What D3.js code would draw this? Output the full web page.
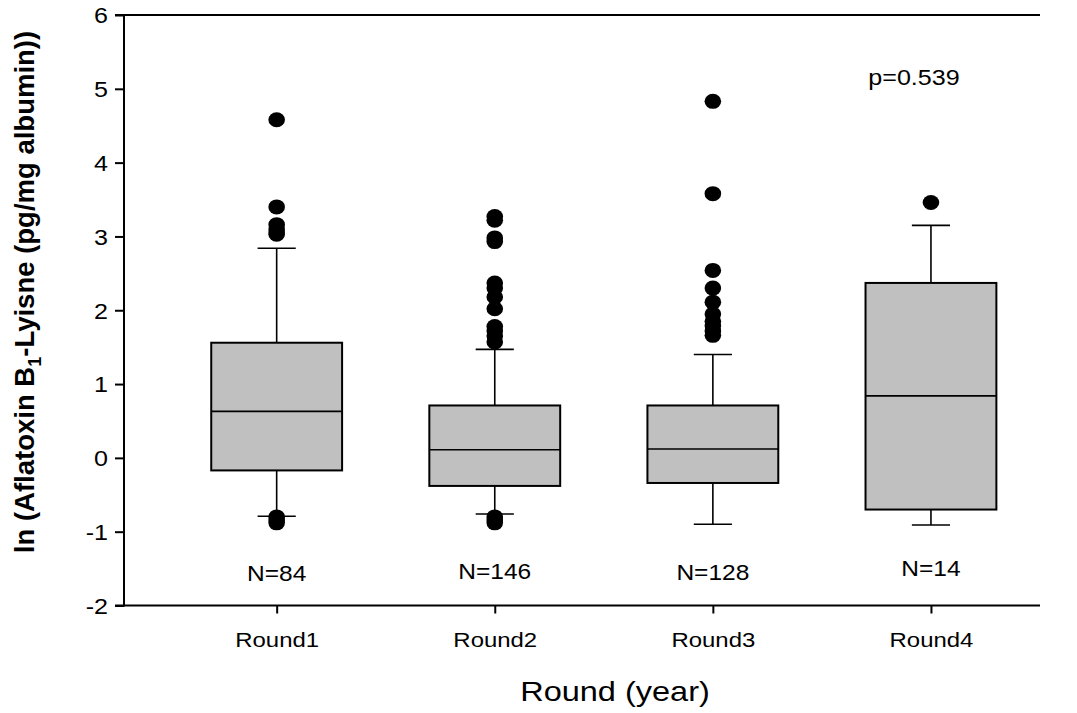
<!DOCTYPE html>
<html>
<head>
<meta charset="utf-8">
<script src="https://cdn.jsdelivr.net/npm/d3@7"></script>
<style>
  html, body { margin: 0; padding: 0; background: #fff; }
  svg { display: block; font-family: "Liberation Sans", Arial, sans-serif; }
</style>
</head>
<body>
<svg id="chart" width="1077" height="713"></svg>
<script>
// Box plot summaries of ln(AFB1-lysine) per sampling round
const categories  = ["Round1", "Round2", "Round3", "Round4"];
const nLabels     = ["N=84", "N=146", "N=128", "N=14"];
const q1          = [-0.17, -0.38, -0.34, -0.70];
const medians     = [0.63, 0.11, 0.12, 0.84];
const q3          = [1.56, 0.71, 0.71, 2.37];
const whiskerLow  = [-0.79, -0.76, -0.90, -0.91];
const whiskerHigh = [2.84, 1.47, 1.40, 3.15];
const outliers = [
  [4.58, 3.40, 3.16, 3.10, 3.06, 3.03, -0.80, -0.84, -0.88],
  [3.27, 3.22, 2.98, 2.93, 2.37, 2.30, 2.18, 2.02, 1.78, 1.72, 1.65, 1.57, -0.80, -0.84, -0.88],
  [4.83, 3.58, 2.54, 2.30, 2.11, 1.95, 1.85, 1.79, 1.72, 1.66],
  [3.46]
];
const yTicks = [-2, -1, 0, 1, 2, 3, 4, 5, 6];
const pValueText = "p=0.539";

const svg = d3.select("#chart");
const SX = 1.14; // horizontal text stretch

const x = d3.scaleLinear().domain([0.3, 4.5]).range([124, 1040]);
const y = d3.scaleLinear().domain([-2, 6]).range([605.5, 15]);
const boxW = x(1.3) - x(1);
const capW = x(1.0875) - x(1);

// Boxes
const g = svg.append("g");
categories.forEach((c, i) => {
  const cx = x(i + 1);
  const grp = g.append("g");
  // whiskers
  grp.append("line").attr("x1", cx).attr("x2", cx).attr("y1", y(q3[i])).attr("y2", y(whiskerHigh[i]))
    .attr("stroke", "#000").attr("stroke-width", 1.6);
  grp.append("line").attr("x1", cx).attr("x2", cx).attr("y1", y(q1[i])).attr("y2", y(whiskerLow[i]))
    .attr("stroke", "#000").attr("stroke-width", 1.6);
  grp.append("line").attr("x1", cx - capW).attr("x2", cx + capW).attr("y1", y(whiskerHigh[i])).attr("y2", y(whiskerHigh[i]))
    .attr("stroke", "#000").attr("stroke-width", 1.6);
  grp.append("line").attr("x1", cx - capW).attr("x2", cx + capW).attr("y1", y(whiskerLow[i])).attr("y2", y(whiskerLow[i]))
    .attr("stroke", "#000").attr("stroke-width", 1.6);
  // box
  grp.append("rect").attr("x", cx - boxW).attr("width", 2 * boxW)
    .attr("y", y(q3[i])).attr("height", y(q1[i]) - y(q3[i]))
    .attr("fill", "#c0c0c0").attr("stroke", "#000").attr("stroke-width", 2);
  grp.append("line").attr("x1", cx - boxW).attr("x2", cx + boxW).attr("y1", y(medians[i])).attr("y2", y(medians[i]))
    .attr("stroke", "#000").attr("stroke-width", 1.6);
  // outliers
  grp.selectAll("ellipse").data(outliers[i]).join("ellipse")
    .attr("cx", cx).attr("cy", d => y(d)).attr("rx", 8.3).attr("ry", 7.5).attr("fill", "#000");
});

// Axes
const yAxis = svg.append("g").attr("transform", "translate(124,0)")
  .call(d3.axisLeft(y).tickValues(yTicks).tickSize(9).tickPadding(0).tickFormat(d => String(d)));
const xAxis = svg.append("g").attr("transform", "translate(0,605.5)")
  .call(d3.axisBottom(x).tickValues([1, 2, 3, 4]).tickSize(8).tickSizeOuter(0).tickFormat(d => categories[d - 1]));

[yAxis, xAxis].forEach(ax => {
  ax.select(".domain").attr("stroke", "#000").attr("stroke-width", 2);
  ax.selectAll(".tick line").attr("stroke", "#000").attr("stroke-width", 2);
  ax.selectAll("text").attr("fill", "#000").attr("font-size", 21)
    .attr("font-family", "'Liberation Sans', Arial, sans-serif");
});
yAxis.select(".domain").attr("d", `M-9,${y(6)}H0V${y(-2)}H-9`);
yAxis.selectAll(".tick text").attr("x", -14).attr("dy", "0.36em").attr("font-size", 22)
  .attr("transform", `scale(${SX},1)`);
xAxis.select(".domain").attr("d", `M${x(0.3)},0H${x(4.5)}`);
xAxis.selectAll(".tick text").attr("y", 42).attr("dy", 0).attr("transform", `scale(${SX},1)`);

// Top frame line
svg.append("line").attr("x1", 124).attr("x2", x(4.5)).attr("y1", y(6)).attr("y2", y(6))
  .attr("stroke", "#000").attr("stroke-width", 2);

function stretchedText(px, py, txt, size, weight) {
  return svg.append("text").attr("transform", `translate(${px},${py}) scale(${SX},1)`)
    .attr("text-anchor", "middle").attr("font-size", size).attr("font-weight", weight || "normal")
    .attr("fill", "#000").text(txt);
}

// Sample sizes
const nBaseline = [581, 579, 580, 576];
nLabels.forEach((t, i) => stretchedText(x(i + 1), nBaseline[i], t, 21.5));

// p-value
stretchedText(914, 85, pValueText, 22);

// Axis titles
stretchedText(615, 701, "Round (year)", 28.5);

const yt = svg.append("text")
  .attr("transform", "translate(34,292) rotate(-90)")
  .attr("text-anchor", "middle").attr("font-size", 27.5).attr("font-weight", "bold").attr("fill", "#000");
yt.append("tspan").text("ln (Aflatoxin B");
yt.append("tspan").attr("font-size", 18).attr("dy", 7).text("1");
yt.append("tspan").attr("dy", -7).text("-Lyisne (pg/mg albumin))");
</script>
</body>
</html>
